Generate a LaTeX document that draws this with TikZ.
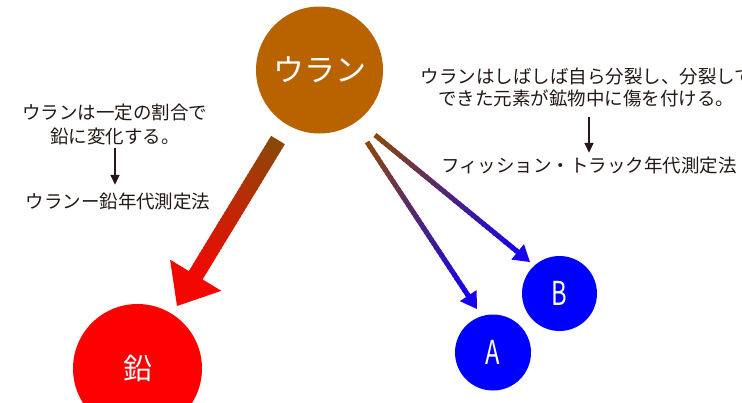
\documentclass[tikz,border=0pt]{standalone}
\usepackage{fontspec}
\setmainfont{Noto Sans CJK JP}
\usetikzlibrary{calc,arrows.meta}
\definecolor{uran}{RGB}{184,98,0}
\definecolor{brn}{RGB}{139,72,8}
\definecolor{rd}{RGB}{242,8,0}
\definecolor{bl}{RGB}{22,0,238}
\definecolor{circblue}{RGB}{0,0,255}
\definecolor{circred}{RGB}{255,0,0}
\definecolor{txt}{RGB}{35,24,21}
\tikzset{
  ball/.style={circle, inner sep=0pt, text=white},
  lbl/.style={inner sep=0pt, text=txt, text height=14pt, text depth=1pt, font=\fontsize{18.5}{18.5}\selectfont},
  blackarrow/.style={draw=txt, line width=1.8pt, -{Triangle[length=10pt,width=9pt]}},
}
\begin{document}
\begin{tikzpicture}[x=1pt,y=-1pt]
\useasboundingbox (0,0) rectangle (742,402);
\clip (0,0) rectangle (742,402);

% circles
\node[ball, fill=uran, minimum size=127pt, font=\fontsize{31}{31}\selectfont] (U) at (319.5,70) {ウラン};
\node[ball, fill=circred, minimum size=129pt, font=\fontsize{29}{29}\selectfont] (Pb) at (137.5,368.5) {鉛};
\node[ball, fill=circblue, minimum size=76pt, font=\fontsize{33}{33}\selectfont] (A) at (493,352.5) {\scalebox{0.72}[1]{A}};
\node[ball, fill=circblue, minimum size=75pt, font=\fontsize{33}{33}\selectfont] (B) at (559.5,293.5) {\scalebox{0.72}[1]{B}};

% arrow end points
\coordinate (rs) at (278,140);
\coordinate (rt) at (177,306);
\coordinate (as) at (367,142);
\coordinate (at) at (477,309);
\coordinate (bs) at (375,135);
\coordinate (bt) at (530,262);

% red gradient arrow (uranium -> lead)
\coordinate (rb) at ($(rt)!36pt!(rs)$);
\coordinate (re) at ($(rt)!33pt!(rs)$);
\foreach \i in {0,...,39} {
  \pgfmathsetmacro\ta{\i/40}
  \pgfmathsetmacro\tb{min(1,(\i+1.4)/40)}
  \pgfmathsetmacro\pc{100*\i/39}
  \draw[line width=16pt, draw=rd!\pc!brn] ($(rs)!\ta!(re)$) -- ($(rs)!\tb!(re)$);
}
\fill[rd] (rt) -- ($(rb)!30pt!90:(rt)$) -- ($(rb)!30pt!-90:(rt)$) -- cycle;

% purple gradient arrows (uranium -> A, B)
\foreach \s/\t in {as/at, bs/bt} {
  \coordinate (hb) at ($(\t)!16pt!(\s)$);
  \coordinate (he) at ($(\t)!14pt!(\s)$);
  \foreach \i in {0,...,39} {
    \pgfmathsetmacro\ta{\i/40}
    \pgfmathsetmacro\tb{min(1,(\i+1.4)/40)}
    \pgfmathsetmacro\pc{100*\i/39}
    \draw[line width=5pt, draw=bl!\pc!brn] ($(\s)!\ta!(he)$) -- ($(\s)!\tb!(he)$);
  }
  \fill[bl] (\t) -- ($(hb)!10pt!90:(\t)$) -- ($(hb)!10pt!-90:(\t)$) -- cycle;
}

% left text
\node[lbl] (L1a) at (115,113) {ウランは一定の割合で};
\node[lbl] (L1b) at (115,137) {鉛に変化する。};
\node[lbl] (L2) at (118,202) {ウランー鉛年代測定法};
\draw[blackarrow, shorten <=3.5pt, shorten >=9.5pt] (L1b.south) -- (L1b.south |- L2.north);

% right text
\node[lbl] (R1a) at (587,77) {ウランはしばしば自ら分裂し、分裂して};
\node[lbl] (R1b) at (586,99) {できた元素が鉱物中に傷を付ける。};
\node[lbl] (R2) at (589,166) {フィッション・トラック年代測定法};
\draw[blackarrow, shorten <=10pt, shorten >=5.5pt] (R1b.south -| R2.north) -- (R2.north);
\end{tikzpicture}
\end{document}
